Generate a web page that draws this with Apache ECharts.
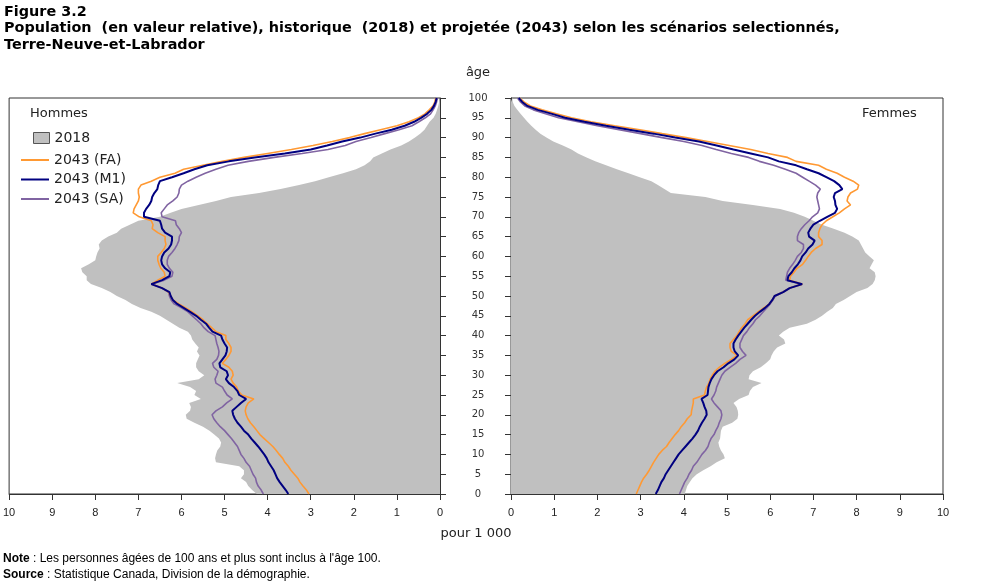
<!DOCTYPE html>
<html lang="fr">
<head>
<meta charset="UTF-8">
<title>Figure 3.2</title>
<script src="https://cdn.jsdelivr.net/npm/echarts@6/dist/echarts.min.js"></script>
<style>
  html, body { margin: 0; padding: 0; background: #fff; }
  #main { width: 985px; height: 585px; }
</style>
</head>
<body>
<div id="main"></div>
<script type="text/javascript">
// ages 0..100 (category axis, bottom to top)
var ages = [];
for (var i = 0; i <= 100; i++) ages.push(String(i));

// pour 1 000, hommes
var men2018 = [4.25,4.36,4.45,4.5,4.62,4.55,4.55,4.66,5.2,5.22,5.2,5.17,5.1,5.08,5.13,5.24,5.35,5.5,5.7,5.88,
  5.9,5.8,5.78,5.82,5.55,5.7,5.66,5.8,6.1,5.6,5.47,5.6,5.66,5.66,5.62,5.58,5.64,5.6,5.68,5.75,
  5.78,5.85,6.05,6.2,6.35,6.5,6.7,6.95,7.15,7.3,7.5,7.65,7.85,8.1,8.2,8.2,8.3,8.33,8.15,8.0,
  7.98,7.95,7.9,7.92,7.85,7.7,7.5,7.4,7.2,7.0,6.5,6.25,6.0,5.6,5.2,4.85,4.2,3.7,3.27,2.9,
  2.58,2.25,1.95,1.75,1.62,1.55,1.35,1.15,0.9,0.72,0.58,0.46,0.36,0.3,0.24,0.15,0.1,0.07,0.04,0.02,0.02];
var menFA = [3.04,3.1,3.18,3.25,3.3,3.38,3.46,3.52,3.6,3.65,3.73,3.8,3.88,3.98,4.08,4.18,4.25,4.32,4.4,4.46,
  4.5,4.52,4.5,4.45,4.32,4.6,4.68,4.72,4.8,4.85,4.8,4.82,4.9,5.05,4.97,4.9,4.85,4.85,4.9,4.97,
  4.97,5.2,5.3,5.4,5.5,5.62,5.75,5.9,6.06,6.2,6.25,6.3,6.45,6.7,6.55,6.38,6.4,6.48,6.52,6.55,
  6.55,6.47,6.4,6.36,6.38,6.38,6.55,6.68,6.66,6.7,6.98,7.12,7.1,7.05,7.0,6.98,7.0,7.0,6.94,6.7,
  6.5,6.15,5.95,5.5,5.05,4.55,4.0,3.45,2.95,2.5,2.1,1.75,1.38,1.0,0.72,0.5,0.35,0.25,0.16,0.12,0.1];
var menM1 = [3.52,3.58,3.65,3.72,3.78,3.82,3.86,3.92,3.98,4.02,4.08,4.15,4.22,4.3,4.38,4.45,4.55,4.62,4.7,4.76,
  4.8,4.82,4.72,4.62,4.5,4.66,4.7,4.78,4.9,4.97,4.92,4.95,5.1,5.12,5.05,4.98,4.95,4.94,5.0,5.05,
  5.08,5.28,5.36,5.43,5.55,5.66,5.8,5.95,6.1,6.2,6.25,6.28,6.45,6.7,6.45,6.28,6.26,6.38,6.45,6.47,
  6.45,6.4,6.3,6.24,6.22,6.22,6.38,6.45,6.47,6.5,6.87,6.87,6.82,6.75,6.7,6.68,6.63,6.56,6.54,6.5,
  6.22,5.95,5.7,5.4,4.9,4.3,3.6,3.0,2.62,2.27,1.85,1.5,1.12,0.82,0.6,0.44,0.3,0.2,0.14,0.1,0.08];
var menSA = [4.1,4.15,4.22,4.26,4.28,4.34,4.38,4.42,4.5,4.55,4.62,4.66,4.7,4.77,4.84,4.92,5.0,5.1,5.18,5.25,
  5.29,5.2,5.05,4.95,4.82,4.94,5.0,5.05,5.2,5.22,5.18,5.15,5.25,5.28,5.18,5.14,5.13,5.15,5.18,5.2,
  5.22,5.38,5.48,5.55,5.65,5.75,5.85,6.0,6.17,6.24,6.28,6.3,6.45,6.7,6.4,6.22,6.2,6.28,6.33,6.33,
  6.3,6.22,6.15,6.1,6.06,6.05,6.0,6.05,6.12,6.14,6.45,6.47,6.4,6.33,6.2,6.1,6.06,6.05,6.0,5.85,
  5.66,5.45,5.2,4.92,4.45,3.85,3.2,2.6,2.2,1.95,1.6,1.28,0.95,0.65,0.49,0.34,0.22,0.16,0.11,0.08,0.06];

// pour 1 000, femmes
var women2018 = [4.02,4.05,4.08,4.14,4.2,4.3,4.45,4.62,4.76,4.95,4.92,4.86,4.82,4.8,4.84,4.85,4.86,4.9,5.12,5.24,
  5.26,5.25,5.22,5.15,5.28,5.5,5.53,5.6,5.8,5.5,5.52,5.6,5.78,5.9,6.0,6.03,6.08,6.16,6.35,6.32,
  6.2,6.3,6.45,6.85,7.05,7.2,7.32,7.45,7.52,7.7,7.85,8.0,8.25,8.37,8.42,8.44,8.42,8.3,8.35,8.4,
  8.3,8.2,8.15,8.1,8.05,7.9,7.72,7.47,7.2,7.0,6.8,6.55,6.23,5.6,4.9,4.5,3.7,3.55,3.4,3.25,
  2.98,2.72,2.45,2.2,1.95,1.75,1.55,1.4,1.2,0.98,0.82,0.68,0.57,0.47,0.38,0.3,0.22,0.15,0.08,0.04,0.03];
var womenFA = [2.9,2.94,2.98,3.02,3.07,3.14,3.2,3.25,3.3,3.36,3.42,3.5,3.6,3.66,3.73,3.8,3.88,3.94,4.02,4.08,
  4.17,4.18,4.2,4.22,4.22,4.48,4.5,4.53,4.58,4.61,4.66,4.72,4.82,4.95,5.1,5.23,5.1,5.07,5.07,5.15,
  5.23,5.28,5.34,5.42,5.48,5.6,5.72,5.85,5.98,6.05,6.1,6.3,6.45,6.74,6.45,6.47,6.55,6.62,6.75,6.82,
  6.88,6.95,7.05,7.2,7.2,7.12,7.12,7.15,7.2,7.3,7.45,7.6,7.72,7.86,7.78,7.8,7.86,8.02,8.05,7.92,
  7.72,7.55,7.3,7.12,6.6,6.4,5.95,5.55,5.05,4.55,4.05,3.5,2.98,2.4,1.85,1.4,1.05,0.72,0.45,0.3,0.2];
var womenM1 = [3.35,3.4,3.44,3.48,3.54,3.58,3.64,3.7,3.76,3.82,3.88,3.96,4.04,4.12,4.2,4.27,4.33,4.37,4.42,4.48,
  4.53,4.52,4.48,4.45,4.41,4.55,4.56,4.57,4.6,4.64,4.7,4.78,4.92,5.03,5.17,5.26,5.18,5.15,5.15,5.2,
  5.26,5.33,5.4,5.48,5.56,5.65,5.76,5.88,5.98,6.05,6.1,6.3,6.45,6.74,6.4,6.42,6.5,6.56,6.64,6.7,
  6.74,6.82,6.88,6.98,7.03,6.9,6.88,6.93,7.0,7.15,7.32,7.5,7.55,7.51,7.5,7.47,7.5,7.67,7.6,7.48,
  7.3,7.12,6.85,6.6,6.2,5.95,5.55,5.15,4.76,4.35,3.8,3.3,2.74,2.2,1.7,1.25,0.95,0.62,0.38,0.26,0.18];
var womenSA = [3.9,3.94,3.98,4.02,4.08,4.12,4.18,4.22,4.3,4.36,4.42,4.5,4.56,4.59,4.63,4.7,4.74,4.79,4.82,4.86,
  4.88,4.86,4.78,4.7,4.64,4.7,4.74,4.76,4.8,4.84,4.88,4.95,5.07,5.2,5.3,5.44,5.36,5.3,5.3,5.34,
  5.38,5.46,5.52,5.6,5.66,5.76,5.84,5.92,6.0,6.06,6.12,6.3,6.45,6.74,6.36,6.38,6.4,6.45,6.52,6.58,
  6.63,6.72,6.77,6.77,6.63,6.63,6.66,6.72,6.8,6.9,6.98,7.1,7.14,7.12,7.1,7.08,7.1,7.16,7.05,6.9,
  6.75,6.6,6.35,6.08,5.75,5.5,5.1,4.75,4.42,4.0,3.5,3.0,2.5,2.0,1.55,1.1,0.8,0.52,0.32,0.22,0.15];

var xTicks = 10;
var colFA = '#FF9933', colM1 = '#000080', colSA = '#8064A2', colBase = '#C0C0C0';

var myChart = echarts.init(document.getElementById('main'), null, { renderer: 'canvas' });

function lineSeries(name, data, color, width, idx) {
    return {
        name: name, type: 'line', data: data,
        xAxisIndex: idx, yAxisIndex: idx,
        symbol: 'none', color: color,
        lineStyle: { color: color, width: width },
        animation: false, z: 3
    };
}
function areaSeries(data, idx) {
    return {
        name: '2018', type: 'line', data: data,
        xAxisIndex: idx, yAxisIndex: idx,
        symbol: 'none', color: colBase,
        lineStyle: { width: 0 },
        areaStyle: { color: colBase, opacity: 1 },
        animation: false, z: 2
    };
}

var xLabel = { color: '#222', fontFamily: 'Liberation Sans', fontSize: 11, margin: 13 };

option = {
    backgroundColor: '#ffffff',
    textStyle: { fontFamily: 'DejaVu Sans' },
    grid: [
        { left: 9, right: 545, top: 98, bottom: 91, show: true, borderColor: '#333', borderWidth: 1, backgroundColor: 'transparent' },
        { left: 511, right: 42, top: 98, bottom: 91, show: true, borderColor: '#333', borderWidth: 1, backgroundColor: 'transparent' }
    ],
    xAxis: [
        { gridIndex: 0, type: 'value', inverse: true, min: 0, max: xTicks, interval: 1,
          axisLine: { show: true, lineStyle: { color: '#333' } },
          axisTick: { show: true, length: 6, lineStyle: { color: '#333' } },
          splitLine: { show: false }, axisLabel: xLabel },
        { gridIndex: 1, type: 'value', min: 0, max: xTicks, interval: 1,
          axisLine: { show: true, lineStyle: { color: '#333' } },
          axisTick: { show: true, length: 6, lineStyle: { color: '#333' } },
          splitLine: { show: false }, axisLabel: xLabel }
    ],
    yAxis: [
        { gridIndex: 0, type: 'category', data: ages, boundaryGap: false, position: 'right',
          axisLine: { show: true, lineStyle: { color: '#333' } },
          axisTick: { show: true, interval: 4, length: 6, lineStyle: { color: '#333' } },
          axisLabel: { show: true, interval: 4, align: 'center', margin: 38, color: '#333',
                       fontFamily: 'DejaVu Sans', fontSize: 10 },
          splitLine: { show: false } },
        { gridIndex: 1, type: 'category', data: ages, boundaryGap: false, position: 'left',
          axisLine: { show: true, lineStyle: { color: '#333' } },
          axisTick: { show: true, interval: 4, length: 6, lineStyle: { color: '#333' } },
          axisLabel: { show: false },
          splitLine: { show: false } }
    ],
    legend: [
        { data: [{ name: '2018', icon: 'rect', itemStyle: { color: colBase, borderColor: '#555', borderWidth: 1 } }],
          left: 28, top: 126, itemWidth: 16, itemHeight: 11, itemGap: 10,
          textStyle: { color: '#222', fontSize: 14, fontFamily: 'DejaVu Sans' }, selectedMode: false },
        { data: [{ name: '2043 (FA)', icon: 'rect' }, { name: '2043 (M1)', icon: 'rect' }, { name: '2043 (SA)', icon: 'rect' }],
          orient: 'vertical', left: 16, top: 148, itemWidth: 28, itemHeight: 2, itemGap: 5.5,
          textStyle: { color: '#222', fontSize: 14, fontFamily: 'DejaVu Sans' }, selectedMode: false }
    ],
    graphic: [
        { type: 'text', left: 4, top: 4, style: {
            text: 'Figure 3.2\nPopulation  (en valeur relative), historique  (2018) et projetée (2043) selon les scénarios selectionnés,\nTerre-Neuve-et-Labrador',
            font: 'bold 14.4px "DejaVu Sans"', fill: '#000', lineHeight: 16.5 } },
        { type: 'text', x: 30, y: 107, style: { text: 'Hommes', font: '13px "DejaVu Sans"', fill: '#222' } },
        { type: 'text', x: 862, y: 107, style: { text: 'Femmes', font: '13px "DejaVu Sans"', fill: '#222' } },
        { type: 'text', x: 478, y: 66, style: { text: 'âge', font: '13px "DejaVu Sans"', fill: '#222', textAlign: 'center' } },
        { type: 'text', x: 476, y: 527, style: { text: 'pour 1 000', font: '13px "DejaVu Sans"', fill: '#222', textAlign: 'center' } },
        { type: 'text', x: 3, y: 551, style: {
            text: '{b|Note} : Les personnes âgées de 100 ans et plus sont inclus à l\'âge 100.\n{b|Source} : Statistique Canada, Division de la démographie.',
            font: '12px "Liberation Sans"', fill: '#000', lineHeight: 16,
            rich: { b: { fontWeight: 'bold', fontFamily: 'Liberation Sans', fontSize: 12 } } } }
    ],
    series: [
        areaSeries(men2018, 0),
        lineSeries('2043 (SA)', menSA, colSA, 1.6, 0),
        lineSeries('2043 (FA)', menFA, colFA, 1.6, 0),
        lineSeries('2043 (M1)', menM1, colM1, 2, 0),
        areaSeries(women2018, 1),
        lineSeries('2043 (SA)', womenSA, colSA, 1.6, 1),
        lineSeries('2043 (FA)', womenFA, colFA, 1.6, 1),
        lineSeries('2043 (M1)', womenM1, colM1, 2, 1)
    ]
};
myChart.setOption(option);
</script>
</body>
</html>
